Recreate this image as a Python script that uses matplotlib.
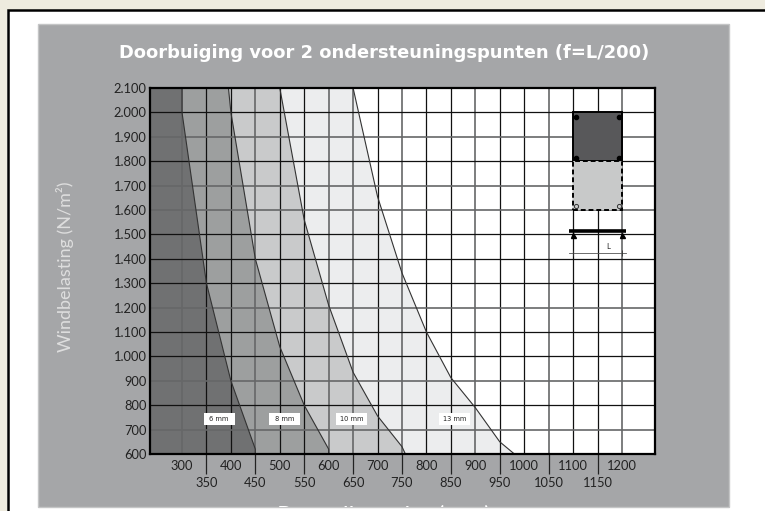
import matplotlib
matplotlib.use('Agg')
import matplotlib.pyplot as plt
from matplotlib.patches import Rectangle

W, H = 765, 511

# wind load on the y axis, panel size on the x axis
y_ticks = [600, 700, 800, 900, 1000, 1100, 1200, 1300, 1400, 1500, 1600, 1700, 1800, 1900, 2000, 2100]
y_labels = ['600', '700', '800', '900', '1.000', '1.100', '1.200', '1.300', '1.400', '1.500',
            '1.600', '1.700', '1.800', '1.900', '2.000', '2.100']
x_upper = [300, 400, 500, 600, 700, 800, 900, 1000, 1100, 1200]
x_lower = [350, 450, 550, 650, 750, 850, 950, 1050, 1150]

# curves per glass thickness
x_6mm = [300, 300, 350, 400, 450, 450]
y_6mm = [2100, 2000, 1300, 900, 620, 600]
x_8mm = [395, 400, 450, 500, 550, 600, 600]
y_8mm = [2100, 2000, 1400, 1040, 800, 620, 600]
x_10mm = [500, 550, 600, 650, 700, 750, 757]
y_10mm = [2100, 1560, 1210, 935, 756, 630, 600]
x_13mm = [650, 700, 750, 800, 850, 900, 950, 980]
y_13mm = [2100, 1655, 1342, 1100, 913, 790, 650, 600]

thickness = ['6 mm', '8 mm', '10 mm', '13 mm']

fig = plt.figure(figsize=(W / 100, H / 100), dpi=100, facecolor='white')
plt.rcParams['font.family'] = ['Lato', 'DejaVu Sans']


def box(x0, y0, x1, y1, **kw):
    # rectangle given in picture pixels, y from the top
    r = Rectangle((x0 / W, 1 - y1 / H), (x1 - x0) / W, (y1 - y0) / H,
                  transform=fig.transFigure, **kw)
    fig.add_artist(r)
    return r


# page around the chart
box(0, 0, W, 10, fc='#eeebdf', ec='none')
box(0, 0, 7, H, fc='#eeebdf', ec='none')
box(8, 10, W + 5, H + 5, fc='white', ec='black', lw=1.8)
panel = box(38, 24, 729, 507, fc='#a5a6a8', ec='#c4c5c6', lw=1)

fig.text(384 / W, 1 - 53 / H, 'Doorbuiging voor 2 ondersteuningspunten (f=L/200)',
         color='white', fontsize=12.85, fontweight='bold', family='DejaVu Sans',
         ha='center', va='center')
fig.text(65 / W, 1 - 267 / H, 'Windbelasting (N/m²)', color='#dedede', fontsize=13,
         rotation=90, ha='center', va='center')
xl = fig.text(384 / W, 1 - 516 / H, 'Paneelbreedte (mm)', color='white', fontsize=17.5,
              ha='center', va='center')
xl.set_clip_path(panel)

ax = fig.add_axes([149.5 / W, 1 - 454 / H, (654.7 - 149.5) / W, (454 - 88) / H], zorder=10)
x_min, x_max = 233.5, 1267
ax.set_xlim(x_min, x_max)
ax.set_ylim(600, 2100)
ax.set_facecolor('white')

# bands, widest first so the darker ones go on top
curves = [(x_13mm, y_13mm, '#ecedee'), (x_10mm, y_10mm, '#c9cacb'),
          (x_8mm, y_8mm, '#9d9f9f'), (x_6mm, y_6mm, '#707172')]
for xs, ys, col in curves:
    ax.fill(list(xs) + [x_min, x_min], list(ys) + [600, 2100], fc=col, ec='none', zorder=1)

# the scan makes some grid lines look grey and thicker
grey_v = [300, 450, 600, 650, 750, 900, 1050, 1200]
grey_h = [700, 900, 1200, 1600, 1700, 1900]
for v in x_upper + x_lower:
    if v in grey_v:
        ax.axvline(v, color='#666768', lw=1.2, zorder=2)
    else:
        ax.axvline(v, color='#111111', lw=0.9, zorder=2)
for v in y_ticks[1:-1]:
    if v in grey_h:
        ax.axhline(v, color='#666768', lw=1.2, zorder=2)
    else:
        ax.axhline(v, color='#111111', lw=0.9, zorder=2)

for xs, ys, col in curves:
    ax.plot(xs, ys, color='#333333', lw=0.8, zorder=3)

# thickness labels
label_x = [376, 510, 647, 857]
for x, t in zip(label_x, thickness):
    ax.add_patch(Rectangle((x - 32, 717), 64, 51, fc='white', ec='none', zorder=4))
    ax.text(x, 743, t, fontsize=4.8, ha='center', va='center', color='#222222', zorder=5,
            family='DejaVu Sans')

# small panel sketch top right
ax.add_patch(Rectangle((1100, 1800), 100, 200, fc='#58585a', ec='black', lw=1.4, zorder=4))
ax.add_patch(Rectangle((1100, 1600), 100, 200, fc='#c8c9c9', ec='black', lw=1.4, ls=(0, (2.5, 1.5)), zorder=4))
ax.plot([1107, 1193, 1107, 1193], [1982, 1982, 1815, 1815], 'o', ms=3, color='black', zorder=5)
ax.plot([1107, 1193], [1616, 1616], 'o', ms=3, mfc='#c8c9c9', mec='#333333', mew=0.7, zorder=5)
ax.plot([1092, 1208], [1515, 1515], color='black', lw=2.6, solid_capstyle='butt', zorder=5)
ax.plot([1100, 1200], [1497, 1497], '^', ms=3.6, color='black', zorder=5)
ax.plot([1092, 1208], [1425, 1425], color='#555555', lw=0.6, zorder=5)
ax.plot([1100, 1200], [1425, 1425], '|', ms=4, color='#333333', mew=0.6, zorder=5)
ax.text(1171, 1450, 'L', fontsize=5.5, color='#222222', ha='center', va='center', zorder=5)

ax.set_yticks(y_ticks)
ax.set_yticklabels(y_labels)
ax.set_xticks(x_upper)
ax.set_xticklabels([str(v) for v in x_upper])
ax.set_xticks(x_lower, minor=True)
ax.set_xticklabels([str(v) for v in x_lower], minor=True)
ax.tick_params(axis='y', length=0, pad=2, labelsize=9.3, labelcolor='#222222')
ax.tick_params(axis='x', which='major', length=0, pad=4.6, labelsize=9.3, labelcolor='#222222')
ax.tick_params(axis='x', which='minor', length=14.4, width=0.9, color='#222222', pad=2,
               labelsize=9.3, labelcolor='#222222')
for s in ax.spines.values():
    s.set_linewidth(1.6)
    s.set_color('black')
    s.set_zorder(6)

fig.savefig('out.png', dpi=100)
